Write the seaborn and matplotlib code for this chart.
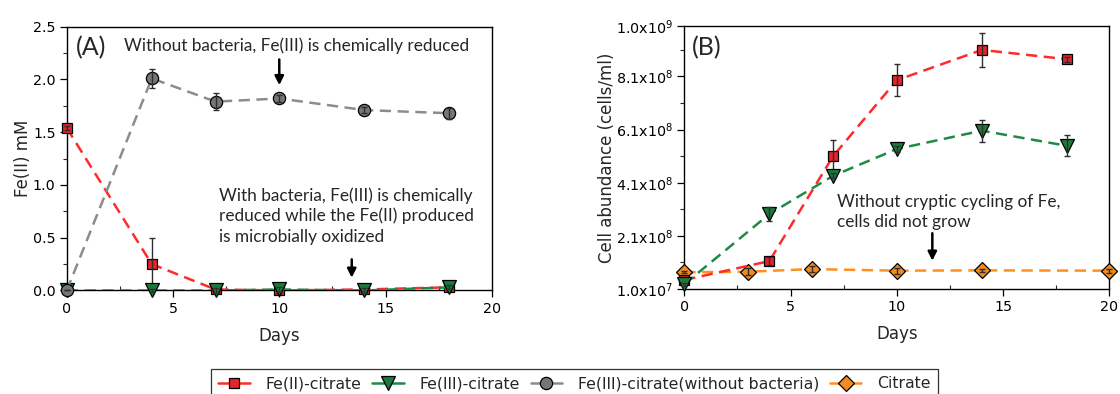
import numpy as np
import pandas as pd
import matplotlib
matplotlib.use("Agg")
import matplotlib.pyplot as plt
from matplotlib.lines import Line2D
import seaborn as sns

# ---- Panel A: Fe(II) concentration (mM) ----
days_a = [0, 4, 7, 10, 14, 18]
fe2_a = [1.54, 0.25, 0.01, 0.00, 0.01, 0.03]
fe2_a_err = [0.02, 0.25, 0.02, 0.02, 0.02, 0.02]
fe3_a = [0.00, 0.00, 0.00, 0.01, 0.00, 0.03]
fe3_a_err = [0.0, 0.01, 0.02, 0.02, 0.02, 0.02]
nobac_a = [0.00, 2.01, 1.79, 1.82, 1.71, 1.68]
nobac_a_err = [0.0, 0.088, 0.078, 0.03, 0.03, 0.05]

# ---- Panel B: cell abundance (cells/ml) ----
days_b = [0, 4, 7, 10, 14, 18]
fe2_b = [4.4e7, 1.15e8, 5.1e8, 7.96e8, 9.1e8, 8.75e8]
fe2_b_err = [5e6, 1.6e7, 6e7, 6e7, 6.4e7, 8.8e6]
fe3_b = [2.8e7, 2.92e8, 4.36e8, 5.37e8, 6.06e8, 5.49e8]
fe3_b_err = [5e6, 2.5e7, 1.0e7, 1.1e7, 4.1e7, 3.95e7]
days_cit = [0, 3, 6, 10, 14, 20]
cit_b = [7.3e7, 7.5e7, 8.5e7, 7.9e7, 8.0e7, 7.9e7]
cit_b_err = [4e6, 1.25e7, 1.1e7, 1.1e7, 6e6, 7.5e6]

yticks_b = [1.0e7, 2.1e8, 4.1e8, 6.1e8, 8.1e8, 1.0e9]
yticklabels_b = ["1.0x10$^{7}$", "2.1x10$^{8}$", "4.1x10$^{8}$",
                 "6.1x10$^{8}$", "8.1x10$^{8}$", "1.0x10$^{9}$"]

series_names = ["Fe(II)-citrate", "Fe(III)-citrate",
                "Fe(III)-citrate(without bacteria)", "Citrate"]

sns.set_style("ticks")
plt.rcParams["font.family"] = ["DejaVu Sans"]
plt.rcParams["mathtext.fontset"] = "dejavusans"

RED = "#e5232b"
RED_LINE = "#ff2b2b"
GREEN = "#1b7a3c"
GREEN_LINE = "#1f8a45"
GRAY = "#767676"
GRAY_LINE = "#8c8c8c"
ORANGE = "#f28a1f"
ORANGE_LINE = "#ff8f1f"
NOTE_FONT = ["Lato", "DejaVu Sans"]
NOTE_SIZE = 12.4
TICK_SIZE = 10.3
LABEL_SIZE = 12

styles = {
    series_names[0]: dict(marker="s", mfc=RED, lc=RED_LINE, ms=7.8),
    series_names[1]: dict(marker="v", mfc=GREEN, lc=GREEN_LINE, ms=10.5),
    series_names[2]: dict(marker="o", mfc=GRAY, lc=GRAY_LINE, ms=8.8),
    series_names[3]: dict(marker="D", mfc=ORANGE, lc=ORANGE_LINE, ms=7.8),
}

fig = plt.figure(figsize=(11.2, 3.94), dpi=100)
ax_a = fig.add_axes([0.0596, 0.2627, 0.3795, 0.6695])
ax_b = fig.add_axes([0.611, 0.2665, 0.3795, 0.6675])


def draw_series(ax, x, y, err, name, z):
    st = styles[name]
    df = pd.DataFrame({"Days": x, "value": y})
    sns.lineplot(data=df, x="Days", y="value", ax=ax, color=st["lc"],
                 linestyle=(0, (4.5, 2.6)), linewidth=1.8, zorder=z,
                 legend=False)
    ax.errorbar(x, y, yerr=err, fmt="none", ecolor="#2e2e2e",
                elinewidth=1.0, capsize=2.5, capthick=1.0, zorder=z + 0.5,
                clip_on=False)
    ax.plot(x, y, linestyle="none", marker=st["marker"], markersize=st["ms"],
            markerfacecolor=st["mfc"], markeredgecolor="black",
            markeredgewidth=0.9, zorder=z + 0.2, clip_on=False)


def note_arrow(ax, x, y_from, y_to):
    ax.annotate("", xy=(x, y_to), xytext=(x, y_from),
                arrowprops=dict(arrowstyle="-|>", color="black", lw=1.8,
                                mutation_scale=13, shrinkA=0, shrinkB=0))


def note_lines(ax, x, baselines, lines):
    for yb, s in zip(baselines, lines):
        ax.text(x, yb, s, fontsize=NOTE_SIZE, family=NOTE_FONT,
                va="baseline", ha="left")


# Panel A
draw_series(ax_a, days_a, fe2_a, fe2_a_err, series_names[0], 3)
draw_series(ax_a, days_a, fe3_a, fe3_a_err, series_names[1], 4)
draw_series(ax_a, days_a, nobac_a, nobac_a_err, series_names[2], 5)
ax_a.set_xlim(0, 20)
ax_a.set_ylim(0, 2.5)
ax_a.set_yticks([0, 0.5, 1.0, 1.5, 2.0, 2.5])
ax_a.set_yticks(np.arange(0, 2.51, 0.25), minor=True)
ax_a.set_yticklabels(["0.0", "0.5", "1.0", "1.5", "2.0", "2.5"])
ax_a.set_ylabel("Fe(II) mM", fontsize=LABEL_SIZE, labelpad=1)

ax_a.text(0.44, 2.23, "(A)", fontsize=18, family=NOTE_FONT,
          va="baseline", ha="left")
note_lines(ax_a, 2.70, [2.268],
           ["Without bacteria, Fe(III) is chemically reduced"])
note_arrow(ax_a, 10.0, 2.19, 1.946)
note_lines(ax_a, 7.17, [0.85, 0.661, 0.456],
           ["With bacteria, Fe(III) is chemically",
            "reduced while the Fe(II) produced",
            "is microbially oxidized"])
note_arrow(ax_a, 13.41, 0.295, 0.121)

# Panel B
draw_series(ax_b, days_cit, cit_b, cit_b_err, series_names[3], 3)
draw_series(ax_b, days_b, fe2_b, fe2_b_err, series_names[0], 4)
draw_series(ax_b, days_b, fe3_b, fe3_b_err, series_names[1], 5)
ax_b.set_xlim(0, 20)
ax_b.set_ylim(1.0e7, 1.0e9)
ax_b.set_yticks(yticks_b)
ax_b.set_yticklabels(yticklabels_b)
ax_b.set_yticks(np.arange(1.1e8, 1.0e9, 2.0e8), minor=True)
ax_b.set_ylabel("Cell abundance (cells/ml)", fontsize=LABEL_SIZE, labelpad=0)

ax_b.text(0.35, 8.9e8, "(B)", fontsize=18, family=NOTE_FONT,
          va="baseline", ha="left")
note_lines(ax_b, 7.17, [3.2e8, 2.42e8],
           ["Without cryptic cycling of Fe,", "cells did not grow"])
note_arrow(ax_b, 11.67, 2.2e8, 1.165e8)

for ax in (ax_a, ax_b):
    ax.set_xticks([0, 5, 10, 15, 20])
    ax.set_xticks(np.arange(0, 20.1, 2.5), minor=True)
    ax.set_xlabel("Days", fontsize=LABEL_SIZE, labelpad=8)
    for sp in ax.spines.values():
        sp.set_visible(True)
        sp.set_color("black")
        sp.set_linewidth(1.0)
    ax.tick_params(axis="both", which="major", direction="out", length=5,
                   width=0.9, labelsize=TICK_SIZE, colors="black", pad=3)
    ax.tick_params(axis="y", which="minor", direction="out", length=3,
                   width=0.8)
    ax.tick_params(axis="x", which="minor", direction="in", length=3,
                   width=0.8)

# Shared legend along the bottom edge
handles = []
for name in series_names:
    st = styles[name]
    handles.append(Line2D([0], [0], color=st["lc"], lw=1.8,
                          marker=st["marker"], markersize=st["ms"],
                          markerfacecolor=st["mfc"], markeredgecolor="black",
                          markeredgewidth=0.9))
leg = fig.legend(handles, series_names, loc="upper center",
                 bbox_to_anchor=(0.5129, 0.0627), ncol=4, frameon=True,
                 fancybox=False, edgecolor="black", fontsize=11.3,
                 handlelength=2.0, handletextpad=1.0, columnspacing=0.7,
                 borderpad=0.45, borderaxespad=0)
leg.get_frame().set_linewidth(0.9)

fig.savefig("out.png", dpi=100)
